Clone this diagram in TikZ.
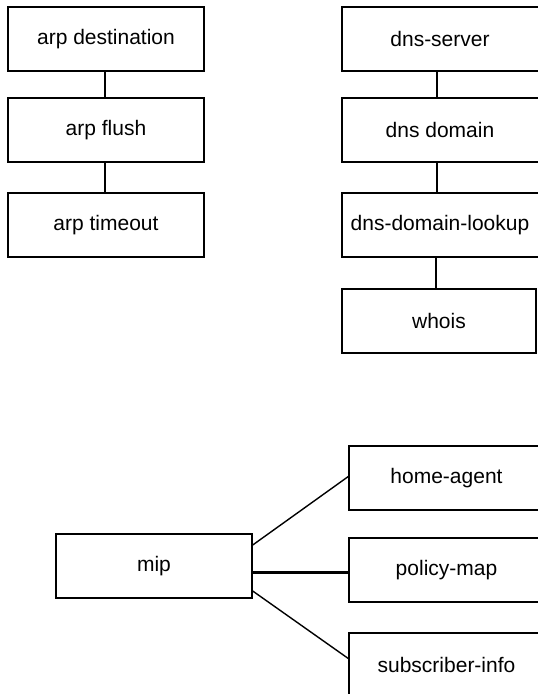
\documentclass[tikz,border=0pt]{standalone}
\usepackage{fontspec}
\setmainfont{Liberation Sans}
\begin{document}
\begin{tikzpicture}[x=1pt,y=-1pt,
  cmdbox/.style={draw=black, line width=1.4pt, rectangle, minimum height=64pt,
    minimum width=196pt, inner sep=0pt, font=\fontsize{21}{25}\selectfont},
  openbox/.style={cmdbox, draw=none, outer sep=0pt},
  boxside/.style={draw=black, line width=1.4pt, line join=miter},
  link/.style={draw=black, line width=1.4pt},
  boldlink/.style={draw=black, line width=3pt}]
\path[use as bounding box] (0,0) rectangle (538,694);

% arp commands
\node[cmdbox] (arpdest)  at (106,39)  {arp destination};
\node[cmdbox] (arpflush) at (106,130) {arp flush};
\node[cmdbox] (arptime)  at (106,225) {arp timeout};
\draw[link] ([xshift=-1pt]arpdest.south)  -- ([xshift=-1pt]arpflush.north);
\draw[link] ([xshift=-1pt]arpflush.south) -- ([xshift=-1pt]arptime.north);

% dns commands (boxes run off the right margin)
\node[openbox] (dnsserver) at (440,39)  {dns-server};
\node[openbox] (dnsdomain) at (440,130) {dns domain};
\node[openbox] (dnslookup) at (440,225) {dns-domain-lookup};
\node[cmdbox, minimum width=194pt] (whois) at (439,321) {whois};
\foreach \b in {dnsserver,dnsdomain,dnslookup}
  \draw[boxside] ([xshift=2pt]\b.north east) -- (\b.north west) -- (\b.south west) -- ([xshift=2pt]\b.south east);
\draw[link] ([xshift=-3pt]dnsserver.south) -- ([xshift=-3pt]dnsdomain.north);
\draw[link] ([xshift=-3pt]dnsdomain.south) -- ([xshift=-3pt]dnslookup.north);
\draw[link] ([xshift=-4pt]dnslookup.south) -- ([xshift=-3pt]whois.north);

% mip and its sub-commands
\node[cmdbox] (mip) at (154,566) {mip};
\node[openbox, minimum width=195pt] (homeagent)  at (446.5,478) {home-agent};
\node[openbox, minimum width=195pt] (policymap)  at (446.5,570) {policy-map};
\node[openbox, minimum width=195pt] (subscriber) at (446.5,665) {subscriber-info};
\foreach \b in {homeagent,policymap}
  \draw[boxside] (\b.north east) -- (\b.north west) -- (\b.south west) -- (\b.south east);
\draw[boxside] (subscriber.north east) -- (subscriber.north west) -- (subscriber.west |- 0,694);
\draw[link] ([yshift=21pt]mip.east) -- ([yshift=2pt]homeagent.west);
\draw[boldlink] ([yshift=-6pt]mip.east) -- ([yshift=-2pt]policymap.west);
\draw[link] ([yshift=-25pt]mip.east) -- ([yshift=6pt]subscriber.west);
\end{tikzpicture}
\end{document}
